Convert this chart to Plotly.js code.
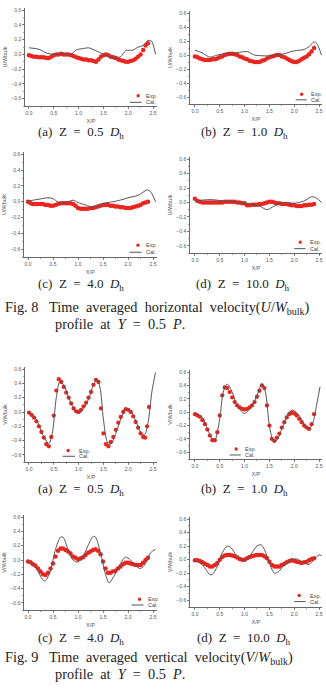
<!DOCTYPE html>
<html><head><meta charset="utf-8">
<script src="https://cdn.plot.ly/plotly-3.0.1.min.js"></script>
<style>html,body{margin:0;padding:0;background:#fff;}#c{width:326px;height:689px;}</style>
</head><body><div id="c"></div>
<script>
// ---------- DATA ----------
const xExp = [0,0.05,0.1,0.15,0.2,0.25,0.3,0.35,0.4,0.45,0.5,0.55,0.6,0.65,0.7,0.75,0.8,0.85,0.9,0.95,1.0,1.05,1.1,1.15,1.2,1.25,1.3,1.35,1.4,1.45,1.5,1.55,1.6,1.65,1.7,1.75,1.8,1.85,1.9,1.95,2.0,2.05,2.1,2.15,2.2,2.25,2.3,2.35,2.4];

// Fig. 8 horizontal velocity U/Wbulk
const u05Exp = [-0.01,-0.02,-0.03,-0.03,-0.04,-0.04,-0.04,-0.05,-0.05,-0.03,-0.01,0.0,0.0,0.01,0.0,0.0,0.0,-0.01,-0.02,-0.04,-0.05,-0.06,-0.07,-0.07,-0.08,-0.08,-0.09,-0.1,-0.07,-0.03,-0.01,0.0,-0.01,-0.03,-0.04,-0.05,-0.07,-0.08,-0.09,-0.1,-0.1,-0.09,-0.08,-0.06,-0.03,0.0,0.06,0.12,0.15];
const u05CalX = [0,0.2,0.35,0.5,0.7,0.85,0.95,1.1,1.2,1.35,1.5,1.6,1.75,1.85,1.95,2.1,2.2,2.3,2.4,2.47,2.55];
const u05Cal = [0.09,0.07,0.02,0.0,0.01,0.0,0.06,0.08,0.09,0.05,0.0,-0.03,-0.05,-0.03,0.05,0.06,0.1,0.12,0.19,0.18,0.0];

const u10Exp = [-0.02,-0.03,-0.05,-0.06,-0.07,-0.07,-0.07,-0.06,-0.06,-0.05,-0.03,-0.02,0.0,0.01,0.02,0.02,0.01,0.0,-0.02,-0.03,-0.05,-0.06,-0.08,-0.09,-0.1,-0.1,-0.1,-0.08,-0.07,-0.05,-0.03,-0.02,-0.01,0.0,0.0,-0.02,-0.03,-0.05,-0.07,-0.09,-0.1,-0.1,-0.08,-0.06,-0.04,-0.02,0.01,0.05,0.1];
const u10CalX = [0,0.15,0.3,0.45,0.6,0.75,0.9,1.05,1.2,1.35,1.6,1.8,2.0,2.2,2.3,2.4,2.45,2.55];
const u10Cal = [0.07,0.03,-0.03,0.0,0.02,0.02,0.04,0.05,0.0,-0.01,-0.01,0.02,0.06,0.08,0.12,0.19,0.17,0.0];

const u40Exp = [0.0,-0.02,-0.03,-0.03,-0.03,-0.03,-0.03,-0.04,-0.04,-0.05,-0.05,-0.04,-0.03,-0.02,-0.02,-0.02,-0.02,-0.02,-0.03,-0.05,-0.08,-0.09,-0.09,-0.09,-0.09,-0.08,-0.08,-0.07,-0.06,-0.05,-0.04,-0.04,-0.04,-0.05,-0.05,-0.06,-0.06,-0.07,-0.07,-0.08,-0.08,-0.08,-0.07,-0.06,-0.05,-0.04,-0.02,-0.01,0.0];
const u40CalX = [0,0.2,0.4,0.5,0.65,0.8,0.9,1.0,1.15,1.3,1.5,1.7,1.9,2.0,2.2,2.3,2.38,2.45,2.55];
const u40Cal = [0.01,0.03,0.05,0.04,-0.02,0.0,0.02,-0.01,-0.04,-0.07,-0.02,0.0,0.03,0.05,0.08,0.12,0.15,0.13,0.0];

const u100Exp = [0.05,0.02,0.01,0.0,0.0,0.0,0.0,0.0,0.0,0.0,0.0,0.0,0.01,0.01,0.01,0.01,0.01,0.0,0.0,-0.01,-0.01,-0.04,-0.04,-0.03,-0.03,-0.03,-0.02,-0.02,-0.01,0.0,0.01,0.01,0.0,-0.01,-0.01,-0.02,-0.02,-0.02,-0.03,-0.04,-0.04,-0.05,-0.05,-0.05,-0.04,-0.04,-0.03,-0.03,-0.02];
const u100CalX = [0,0.3,0.6,0.9,1.1,1.3,1.45,1.6,1.8,2.0,2.2,2.35,2.45,2.55];
const u100Cal = [0.02,0.04,0.02,0.0,-0.02,-0.05,-0.1,-0.05,0.0,-0.01,0.02,0.08,0.06,0.0];

// Fig. 9 vertical velocity V/Wbulk
const v05ExpX = [0,0.05,0.1,0.15,0.2,0.25,0.3,0.35,0.4,0.45,0.5,0.55,0.6,0.65,0.7,0.75,0.8,0.85,0.9,0.95,1.0,1.05,1.1,1.15,1.2,1.25,1.3,1.35,1.4,1.45,1.5,1.55,1.6,1.65,1.7,1.75,1.8,1.85,1.9,1.95,2.0,2.05,2.1,2.15,2.2,2.25,2.3,2.34,2.38,2.42];
const v05Exp = [-0.01,-0.04,-0.08,-0.13,-0.2,-0.28,-0.36,-0.45,-0.48,-0.35,-0.05,0.3,0.46,0.42,0.35,0.27,0.2,0.12,0.05,0.01,0.0,0.03,0.08,0.13,0.2,0.28,0.38,0.45,0.42,0.05,-0.3,-0.45,-0.48,-0.42,-0.35,-0.25,-0.15,-0.07,0.0,0.04,0.03,0.0,-0.06,-0.14,-0.22,-0.3,-0.35,-0.36,-0.2,0.07];
const v05CalX = [0,0.1,0.2,0.3,0.4,0.47,0.55,0.62,0.7,0.8,0.9,1.0,1.1,1.2,1.3,1.37,1.43,1.5,1.58,1.65,1.75,1.85,1.95,2.05,2.15,2.25,2.33,2.4,2.48,2.55];
const v05Cal = [0.0,-0.05,-0.18,-0.35,-0.44,-0.3,0.2,0.42,0.38,0.2,0.05,-0.02,0.05,0.18,0.38,0.45,0.35,-0.1,-0.42,-0.45,-0.3,-0.1,0.04,0.02,-0.12,-0.28,-0.32,-0.15,0.3,0.55];

const v10Exp = [-0.03,-0.05,-0.07,-0.12,-0.18,-0.26,-0.35,-0.42,-0.42,-0.3,-0.05,0.25,0.37,0.36,0.3,0.22,0.15,0.1,0.07,0.05,0.04,0.05,0.07,0.1,0.15,0.23,0.32,0.4,0.36,0.1,-0.2,-0.4,-0.43,-0.38,-0.32,-0.23,-0.15,-0.08,-0.03,-0.01,-0.02,-0.05,-0.1,-0.15,-0.2,-0.23,-0.25,-0.18,-0.03];
const v10CalX = [0,0.15,0.25,0.35,0.4,0.5,0.57,0.65,0.75,0.85,1.0,1.15,1.25,1.35,1.42,1.5,1.58,1.65,1.75,1.9,1.97,2.1,2.2,2.3,2.38,2.45,2.52];
const v10Cal = [-0.01,-0.08,-0.25,-0.4,-0.42,-0.1,0.3,0.42,0.3,0.1,-0.02,0.1,0.25,0.42,0.3,-0.2,-0.43,-0.42,-0.25,0.0,0.03,-0.05,-0.18,-0.25,-0.15,0.1,0.38];

const v40Exp = [-0.02,-0.03,-0.06,-0.08,-0.12,-0.16,-0.2,-0.21,-0.18,-0.12,-0.05,0.05,0.13,0.16,0.16,0.14,0.12,0.09,0.05,0.03,0.01,0.02,0.04,0.07,0.1,0.12,0.14,0.15,0.13,0.08,-0.02,-0.12,-0.18,-0.18,-0.16,-0.15,-0.12,-0.09,-0.06,-0.04,-0.04,-0.05,-0.06,-0.07,-0.07,-0.07,-0.04,0.0,0.03];
const v40CalX = [0,0.15,0.3,0.35,0.45,0.55,0.65,0.7,0.8,0.9,1.0,1.1,1.2,1.3,1.35,1.45,1.55,1.62,1.7,1.85,1.95,2.05,2.15,2.25,2.35,2.45,2.55];
const v40Cal = [0.0,-0.1,-0.28,-0.29,-0.15,0.15,0.32,0.32,0.15,0.0,-0.03,0.05,0.2,0.33,0.32,0.1,-0.2,-0.32,-0.25,-0.05,0.04,0.0,-0.08,-0.12,-0.05,0.1,0.15];

const v100Exp = [-0.01,-0.01,-0.02,-0.04,-0.06,-0.08,-0.1,-0.1,-0.08,-0.05,0.0,0.04,0.06,0.07,0.07,0.06,0.05,0.03,0.01,0.0,0.0,0.02,0.04,0.05,0.06,0.07,0.07,0.07,0.05,0.02,-0.03,-0.08,-0.1,-0.1,-0.1,-0.08,-0.06,-0.04,-0.02,-0.01,-0.02,-0.03,-0.04,-0.05,-0.04,-0.03,-0.01,0.01,0.02];
const v100CalX = [0,0.15,0.3,0.35,0.45,0.55,0.65,0.72,0.85,1.0,1.1,1.25,1.33,1.4,1.5,1.6,1.68,1.8,1.95,2.05,2.2,2.3,2.4,2.5,2.55];
const v100Cal = [0.0,-0.08,-0.22,-0.22,-0.1,0.1,0.2,0.18,0.05,-0.02,0.05,0.2,0.22,0.15,-0.05,-0.2,-0.18,-0.08,0.0,0.01,-0.05,-0.07,0.0,0.07,0.06];

const xTickVals = [0,0.5,1.0,1.5,2.0,2.5];
const yTickVals = [-0.6,-0.4,-0.2,0.0,0.2,0.4,0.6];
const captionLabels = ["(a)","(b)","(c)","(d)"];
const zValues = ["0.5","1.0","4.0","10.0"];

// ---------- LAYOUT HELPERS ----------
const W = 326, H = 689;
const RED = '#e8261f', CALC = '#555555';
const traces = [];
const layout = {
  width: W, height: H, margin: {l:0,r:0,t:0,b:0},
  paper_bgcolor: '#fff', plot_bgcolor: 'rgba(0,0,0,0)',
  showlegend: false, annotations: [], shapes: [],
  font: {family: 'Liberation Sans', color: '#444'}
};
function xd(a,b){return [a/W,b/W];}
function yd(a,b){return [1-b/H,1-a/H];}

// panels: [pixel x0,x1,y0,y1, xrange, yTitle, expX, exp, calX, cal, marker size, legend pos]
const panels = [
  [25,157,8,106,[-0.08,2.58],'U/Wbulk',xExp,u05Exp,u05CalX,u05Cal,4.5,[2.2,-0.56,2.03,2.27,-0.65]],
  [190,322,11,104,[-0.1,2.56],'U/Wbulk',xExp,u10Exp,u10CalX,u10Cal,4.5,[2.15,-0.56,2.03,2.25,-0.64]],
  [24,157,152,257,[-0.08,2.58],'U/Wbulk',xExp,u40Exp,u40CalX,u40Cal,4.5,[2.2,-0.55,2.03,2.27,-0.64]],
  [190,322,157,253,[-0.1,2.56],'U/Wbulk',xExp,u100Exp,u100CalX,u100Cal,4.5,[2.12,-0.55,2.0,2.23,-0.64]],
  [25,157,367,462,[-0.08,2.58],'V/Wbulk',v05ExpX,v05Exp,v05CalX,v05Cal,4.3,[0.79,-0.54,0.68,0.93,-0.62]],
  [190,322,370,459,[-0.1,2.56],'V/Wbulk',xExp,v10Exp,v10CalX,v10Cal,4.3,[0.83,-0.55,0.7,0.92,-0.64]],
  [24,157,515,610,[-0.08,2.58],'V/Wbulk',xExp,v40Exp,v40CalX,v40Cal,4.5,[2.23,-0.55,2.07,2.31,-0.63]],
  [190,322,517,607,[-0.1,2.56],'V/Wbulk',xExp,v100Exp,v100CalX,v100Cal,4.5,[2.1,-0.53,2.0,2.23,-0.62]]
];

panels.forEach((p,i)=>{
  const n = i===0 ? '' : String(i+1);
  const xa = 'x'+n, ya = 'y'+n;
  traces.push({type:'scatter',mode:'markers',x:p[6],y:p[7],xaxis:xa,yaxis:ya,
    marker:{color:RED,size:p[10],line:{width:0}},name:'Exp.'});
  traces.push({type:'scatter',mode:'lines',x:p[8],y:p[9],xaxis:xa,yaxis:ya,
    line:{color:CALC,width:1,shape:'spline',smoothing:0.8},name:'Cal.'});
  const common = {showline:true,linecolor:'#444',linewidth:0.8,showgrid:false,zeroline:false,
    ticks:'outside',ticklen:2,tickwidth:0.6,tickcolor:'#444',
    tickfont:{size:5,color:'#555',family:'Liberation Sans'},tickformat:'.1f',fixedrange:true};
  layout['xaxis'+n] = Object.assign({},common,{domain:xd(p[0],p[1]),range:p[4],anchor:ya,
    tickmode:'array',tickvals:xTickVals,
    minor:{ticks:'outside',ticklen:1.2,tickcolor:'#444',tickwidth:0.5,dtick:0.25,tick0:0},
    title:{text:'X/P',font:{size:5.5,color:'#555'},standoff:4}});
  layout['yaxis'+n] = Object.assign({},common,{domain:yd(p[2],p[3]),range:[-0.7,0.63],anchor:xa,
    tickmode:'array',tickvals:yTickVals,
    minor:{ticks:'outside',ticklen:1.2,tickcolor:'#444',tickwidth:0.5,dtick:0.1,tick0:0},
    title:{text:p[5],font:{size:5.5,color:'#555'},standoff:3}});
  const L = p[11];
  layout.shapes.push({type:'circle',xref:xa,yref:ya,xsizemode:'pixel',ysizemode:'pixel',
    xanchor:L[0],yanchor:L[1],x0:-1.7,x1:1.7,y0:-1.7,y1:1.7,fillcolor:RED,line:{width:0}});
  layout.annotations.push({xref:xa,yref:ya,x:L[3]+0.04,y:L[1],text:'Exp.',showarrow:false,
    font:{size:5.5,color:'#444'},xanchor:'left',yanchor:'middle'});
  layout.annotations.push({xref:xa,yref:ya,x:L[3]+0.04,y:L[4],text:'Cal.',showarrow:false,
    font:{size:5.5,color:'#444'},xanchor:'left',yanchor:'middle'});
  layout.shapes.push({type:'line',xref:xa,yref:ya,x0:L[2],x1:L[3],y0:L[4],y1:L[4],
    line:{color:CALC,width:1}});
});

// captions
const sp = '\u00a0';
function gap(k){return sp.repeat(k);}
const capFont = {family:'Liberation Serif',size:13,color:'#222'};
function cap(lbl,z){return lbl+gap(2)+'Z'+gap(2)+'='+gap(2)+z+gap(2)+'<i>D</i><sub>h</sub>';}
const capPos = [[81,133],[244,133],[81,284],[243,284],[81,489],[244,489],[81,638],[244,638]];
capPos.forEach((c,i)=>{
  layout.annotations.push({xref:'paper',yref:'paper',x:c[0]/W,y:1-c[1]/H,showarrow:false,
    text:cap(captionLabels[i%4],zValues[i%4]),font:capFont,xanchor:'center',yanchor:'middle'});
});
const figFont = {family:'Liberation Serif',size:14.3,color:'#222'};
function figLines(num,kind,sym,y1,y2){
  layout.annotations.push({xref:'paper',yref:'paper',x:3/W,y:1-y1/H,showarrow:false,xanchor:'left',yanchor:'middle',
    font:figFont,text:'Fig.'+sp+num+gap(3)+'Time'+gap(2)+'averaged'+gap(2)+kind+gap(2)+'velocity(<i>'+sym+'</i>/<i>W</i><sub>bulk</sub>)'});
  layout.annotations.push({xref:'paper',yref:'paper',x:53/W,y:1-y2/H,showarrow:false,xanchor:'left',yanchor:'middle',
    font:figFont,text:'profile'+gap(2)+'at'+gap(2)+'<i>Y</i>'+gap(2)+'='+gap(2)+'0.5'+gap(2)+'<i>P</i>.'});
}
figLines('8','horizontal','U',308,324);
figLines('9','vertical','V',658,674);

Plotly.newPlot('c',traces,layout,{staticPlot:true,displayModeBar:false});
</script></body></html>
